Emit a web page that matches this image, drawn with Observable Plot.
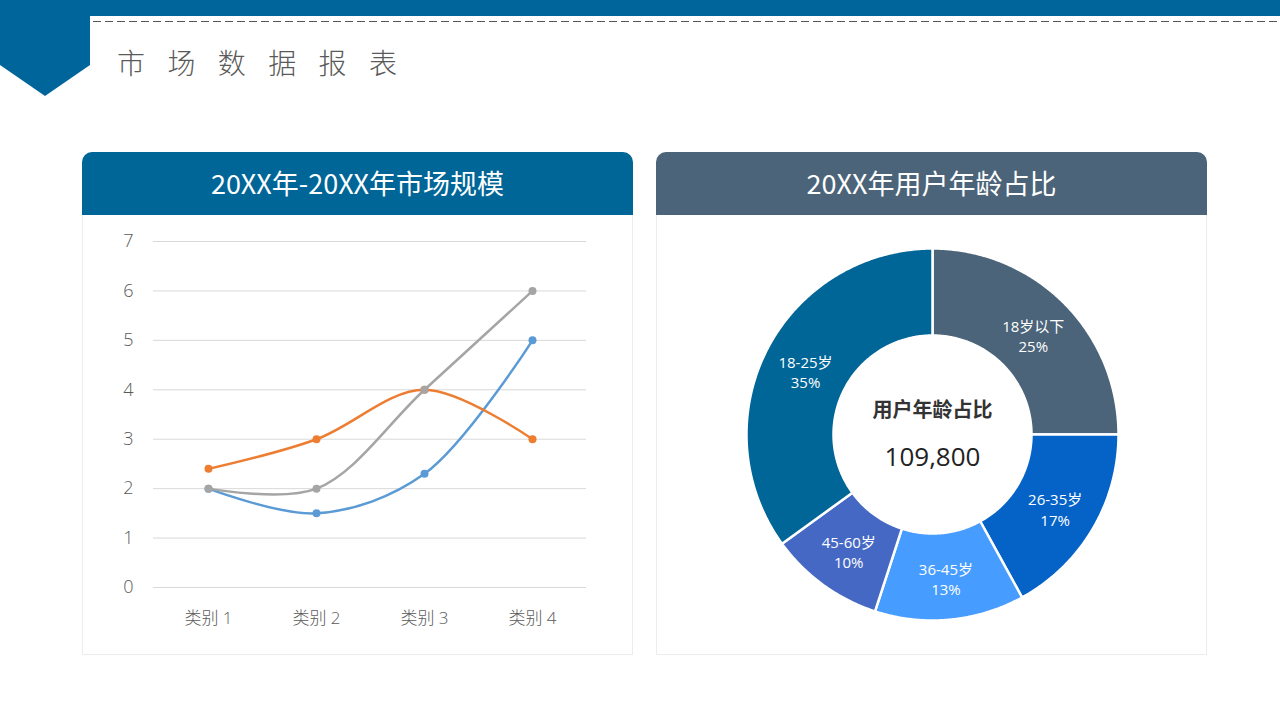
<!DOCTYPE html>
<html>
<head>
<meta charset="utf-8">
<script src="https://cdn.jsdelivr.net/npm/d3@7"></script>
<script src="https://cdn.jsdelivr.net/npm/@observablehq/plot@0.6"></script>
<style>
  html, body { margin: 0; padding: 0; background: #fff; }
  #page { position: relative; width: 1280px; height: 720px; overflow: hidden; background: #fff;
          font-family: "Noto Sans CJK SC", "Open Sans", sans-serif; }
  .abs { position: absolute; }
  #topbar { left: 0; top: 0; width: 1280px; height: 16px; background: #00659A; }
  #tab { left: 0; top: 0; width: 90px; height: 96px; background: #00659A;
         clip-path: polygon(0 0, 90px 0, 90px 65px, 45px 96px, 0 65px); }
  #dash { left: 93px; top: 20px; }
  #title { left: 117px; top: 42px; font-size: 28px; font-weight: 300; color: #5a5a5a; letter-spacing: 8.1px; white-space: pre; line-height: 40px; }
  .head { height: 63px; width: 551px; border-radius: 10px 10px 0 0; color: #fff; font-size: 27px;
          text-align: center; line-height: 62px; }
  .body { width: 551px; height: 440px; border: 1px solid #ececec; border-top: none; box-sizing: border-box; }
</style>
</head>
<body>
<div id="page">
  <div id="topbar" class="abs"></div>
  <div id="tab" class="abs"></div>
  <svg id="dash" class="abs" width="1187" height="4"><line x1="0" y1="1.5" x2="1187" y2="1.5" stroke="#555" stroke-width="1" stroke-dasharray="8 4"/></svg>
  <div id="title" class="abs">市 场 数 据 报 表</div>

  <div class="abs head" style="left:82px;top:152px;background:#006597;">20XX年-20XX年市场规模</div>
  <div class="abs body" style="left:82px;top:215px;"></div>
  <div class="abs head" style="left:656px;top:152px;background:#4B6479;">20XX年用户年龄占比</div>
  <div class="abs body" style="left:656px;top:215px;"></div>

  <div id="line" class="abs" style="left:100px;top:225px;"></div>
  <div id="donut" class="abs" style="left:746px;top:248px;"></div>
</div>
<script>
// ---- Line chart data ----
const categories = ["类别 1", "类别 2", "类别 3", "类别 4"];
const seriesNames = ["系列 1", "系列 2", "系列 3"];
const series1 = [2, 1.5, 2.3, 5];
const series2 = [2.4, 3, 4, 3];
const series3 = [2, 2, 4, 6];
const seriesColors = ["#5B9BD5", "#ED7D31", "#A5A5A5"];
const yTicks = [0, 1, 2, 3, 4, 5, 6, 7];

// ---- Donut data ----
const ageGroups = ["18岁以下", "26-35岁", "36-45岁", "45-60岁", "18-25岁"];
const agePercents = [25, 17, 13, 10, 35];
const ageColors = ["#4B6479", "#0563C8", "#469CFF", "#4568C4", "#006597"];
const centerTitle = "用户年龄占比";
const centerValue = "109,800";

// ---- Line chart ----
const allSeries = [series1, series2, series3];
const rows = [];
allSeries.forEach((vals, si) => vals.forEach((v, ci) => rows.push({series: seriesNames[si], category: categories[ci], value: v})));

const font = '"Open Sans", "Noto Sans CJK SC", sans-serif';
const lineChart = Plot.plot({
  width: 500, height: 420,
  marginLeft: 53, marginRight: 14, marginTop: 16, marginBottom: 58,
  style: {fontFamily: font, fontSize: "17px", color: "#595959", background: "transparent", fontWeight: 300},
  x: {type: "point", domain: categories, padding: 0.5, label: null},
  y: {domain: [0, 7], label: null},
  color: {domain: seriesNames, range: seriesColors},
  marks: [
    Plot.gridY(yTicks, {stroke: "#d9d9d9", strokeOpacity: 1}),
    Plot.axisY(yTicks, {tickSize: 0, tickPadding: 20, fontSize: 18, label: null}),
    Plot.axisX({tickSize: 0, tickPadding: 24, fontSize: 17, label: null}),
    Plot.line(rows, {x: "category", y: "value", z: "series", stroke: "series", strokeWidth: 2.5, curve: "catmull-rom"}),
    Plot.dot(rows, {x: "category", y: "value", fill: "series", r: 4})
  ]
});
document.getElementById("line").appendChild(lineChart);

// ---- Donut via azimuthal projection (pole at centre; longitude = angle) ----
const outerLat = 0;
const innerLat = 90 - 90 * (99 / 186);
const labelLat = 90 - 90 * (142.5 / 186);
function ring(a0, a1) {
  // a0, a1: clockwise angles from top in degrees; lon = 180 - angle
  const pts = [];
  const n = Math.max(2, Math.ceil((a1 - a0) / 0.5));
  for (let i = 0; i <= n; i++) { const a = a0 + (a1 - a0) * i / n; pts.push([180 - a, outerLat]); }
  for (let i = n; i >= 0; i--) { const a = a0 + (a1 - a0) * i / n; pts.push([180 - a, innerLat]); }
  pts.push(pts[0]);
  let poly = {type: "Polygon", coordinates: [pts]};
  if (d3.geoArea(poly) > 2 * Math.PI) poly = {type: "Polygon", coordinates: [pts.slice().reverse()]};
  return poly;
}
const total = d3.sum(agePercents);
let acc = 0;
const slices = ageGroups.map((g, i) => {
  const a0 = acc / total * 360;
  acc += agePercents[i];
  const a1 = acc / total * 360;
  return {type: "Feature", properties: {group: g, pct: agePercents[i], mid: (a0 + a1) / 2}, geometry: ring(a0, a1)};
});
const labels = slices.map(s => ({lon: 180 - s.properties.mid, lat: labelLat, text: s.properties.group + "\n" + s.properties.pct + "%"}));
const domainCircle = d3.geoCircle().center([0, 90]).radius(90)();

const donut = Plot.plot({
  width: 372, height: 372, margin: 0,
  style: {fontFamily: '"Open Sans", "Noto Sans CJK SC", sans-serif', background: "transparent"},
  projection: {type: "azimuthal-equidistant", rotate: [0, -90], domain: domainCircle, inset: 0},
  color: {domain: ageGroups, range: ageColors},
  marks: [
    Plot.geo(slices, {fill: d => d.properties.group, stroke: "#fff", strokeWidth: 2.5}),
    Plot.text(labels, {x: "lon", y: "lat", text: "text", fill: "#ffffff", fillOpacity: 1, fontSize: 15, lineHeight: 1.35, fontWeight: 400, dy: 2}),
    Plot.text([centerTitle], {x: () => 0, y: () => 90, text: d => d, dy: -24, fontSize: 20, fontWeight: 700, fill: "#333", fontFamily: '"Noto Sans CJK SC", sans-serif'}),
    Plot.text([centerValue], {x: () => 0, y: () => 90, text: d => d, dy: 23, fontSize: 26, fill: "#222", fontFamily: '"Open Sans", sans-serif'})
  ]
});
document.getElementById("donut").appendChild(donut);
</script>
</body>
</html>
